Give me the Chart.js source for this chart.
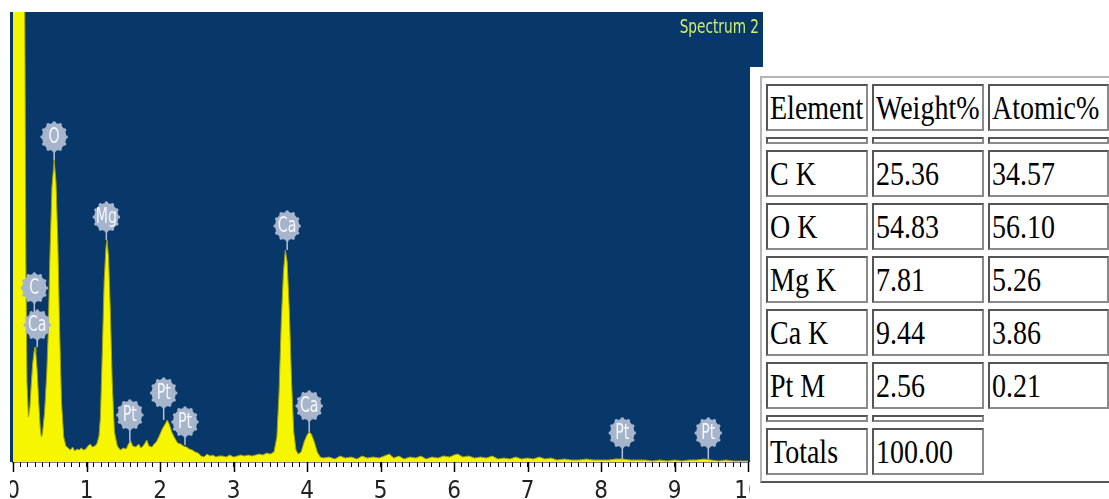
<!DOCTYPE html>
<html>
<head>
<meta charset="utf-8">
<script src="https://cdn.jsdelivr.net/npm/chart.js@4/dist/chart.umd.min.js"></script>
<style>
html, body { margin:0; padding:0; background:#fff; width:1109px; height:499px; overflow:hidden; }
#spec { position:absolute; left:0; top:0; }
#mask { position:absolute; left:0; top:0; width:10px; height:499px; background:#fff; }
#tblwrap { position:absolute; left:750px; top:67px; width:380px; height:432px; background:#fff; }
#tbl { position:absolute; left:10px; top:9px; border-collapse:separate; border-spacing:4px 6px;
  border:2px solid; border-color:#b4b4b4 #555 #555 #b4b4b4; table-layout:fixed;
  font-family:'Liberation Serif','Times New Roman',serif; font-size:28px; color:#000; }
#tbl td { box-sizing:border-box; border:2px solid; border-color:#555 #8a8a8a #8a8a8a #555;
  padding:0 2px; height:47px; vertical-align:middle; white-space:nowrap; overflow:hidden; }
#tbl tr.sp td { height:7px; }
#tbl td span { display:inline-block; transform:scaleY(1.2); }
</style>
</head>
<body>
<canvas id="spec" width="770" height="499"></canvas>
<div id="mask"></div>
<div id="tblwrap"><table id="tbl"></table></div>
<script>
// spectrum, energy in keV / counts
const energy = [
  0.00, 0.16, 0.175, 0.19, 0.21, 0.23, 0.25, 0.27, 0.29, 0.30, 0.31, 0.33, 0.35, 0.37, 0.385,
  0.40, 0.43, 0.46, 0.48, 0.50, 0.53, 0.56, 0.585, 0.61, 0.635, 0.66, 0.69, 0.72,
  0.75, 0.78, 0.81, 0.84, 0.87, 0.90, 0.93, 0.96, 0.99, 1.02, 1.05, 1.08, 1.11,
  1.14, 1.17, 1.19, 1.215, 1.24, 1.265, 1.28, 1.30, 1.325, 1.35, 1.38, 1.42,
  1.46, 1.50, 1.54, 1.57, 1.60, 1.63, 1.67, 1.71, 1.74, 1.78, 1.82, 1.85, 1.89, 1.92,
  1.95, 1.99, 2.03, 2.07, 2.10, 2.13, 2.16, 2.20, 2.24, 2.28, 2.32, 2.36, 2.40, 2.44, 2.48, 2.52,
  2.56, 2.60, 2.64, 2.68, 2.72, 2.76, 2.80, 2.85, 2.90, 2.95, 3.00, 3.05, 3.10, 3.15, 3.20,
  3.25, 3.30, 3.35, 3.40, 3.45, 3.50, 3.55, 3.59, 3.62, 3.65, 3.68, 3.705, 3.73, 3.76, 3.79,
  3.82, 3.85, 3.88, 3.92, 3.96, 4.00, 4.03, 4.06, 4.10, 4.14, 4.18,
  4.22, 4.30, 4.38, 4.45, 4.52, 4.60, 4.68, 4.75, 4.82, 4.90, 4.98, 5.05, 5.12, 5.18, 5.25,
  5.32, 5.40, 5.48, 5.55, 5.62, 5.70, 5.78, 5.86, 5.94, 6.00, 6.05, 6.12, 6.20, 6.28, 6.36,
  6.44, 6.52, 6.60, 6.68, 6.76, 6.84, 6.92, 7.00, 7.08, 7.16, 7.24, 7.32, 7.40, 7.50, 7.60,
  7.70, 7.80, 7.90, 8.00, 8.10, 8.20, 8.30, 8.40, 8.50, 8.60, 8.70, 8.80, 8.90, 9.00, 9.10,
  9.20, 9.30, 9.40, 9.50, 9.60, 9.70, 9.80, 9.90, 10.0
];
const counts = [
  460, 460, 200, 80, 45, 55, 80, 100, 112, 115, 110, 90, 60, 35, 25,
  28, 50, 90, 130, 200, 275, 302, 280, 220, 130, 60, 25, 16,
  14, 12, 15, 11, 13, 12, 14, 12, 13, 16, 18, 15, 16,
  18, 26, 45, 110, 180, 215, 222, 205, 150, 80, 30, 16,
  12, 14, 13, 18, 21, 16, 15, 18, 14, 17, 22, 16, 15, 18,
  20, 26, 33, 38, 42, 37, 30, 24, 19, 18, 16, 15, 13, 12, 10, 9,
  6, 5, 8, 6, 7, 5, 6, 6, 5, 7, 5, 6, 7, 6, 7,
  6, 7, 8, 7, 9, 8, 10, 25, 70, 140, 190, 212, 200, 150, 80,
  30, 12, 8, 10, 20, 27, 30, 28, 20, 10, 5,
  4, 5, 3, 6, 4, 5, 3, 6, 4, 5, 4, 6, 8, 4, 6,
  3, 5, 4, 6, 3, 5, 4, 6, 5, 7, 8, 5, 6, 4, 5,
  4, 6, 3, 4, 3, 5, 3, 4, 3, 5, 3, 4, 2, 3, 2,
  2, 3, 2, 2, 2, 3, 3, 2, 2, 2, 1, 2, 1, 2, 1,
  2, 2, 3, 2, 1, 2, 1, 1, 1
];

// element markers: name, energy, bubble height, peak top
const peakNames = ["O", "C", "Ca", "Mg", "Pt", "Pt", "Pt", "Ca", "Ca", "Pt", "Pt"];
const peakKeV   = [0.56, 0.29, 0.33, 1.27, 1.59, 2.05, 2.34, 3.73, 4.03, 8.29, 9.46];
const bubbleAt  = [325, 174, 137, 245, 47, 69, 40, 236, 56, 29, 29];
const stemTo    = [302, 150, 115, 222, 20, 42, 17, 212, 30, 3, 3];

const xTicks = [0, 1, 2, 3, 4, 5, 6, 7, 8, 9, 10];

// quantification table
const tableElements = ["C K", "O K", "Mg K", "Ca K", "Pt M"];
const weightPct = ["25.36", "54.83", "7.81", "9.44", "2.56"];
const atomicPct = ["34.57", "56.10", "5.26", "3.86", "0.21"];
const totalWeight = "100.00";

const narrow = "'Liberation Sans Narrow', 'DejaVu Sans Condensed', Arial, sans-serif";

// narrow text: squeeze horizontally
function narrowText(ctx, text, x, y, size, sx) {
  ctx.save();
  ctx.translate(x, y);
  ctx.scale(sx, 1);
  ctx.font = size + "px " + narrow;
  ctx.fillText(text, 0, 0);
  ctx.restore();
}

const plotBg = {
  id: "plotBg",
  beforeDraw(chart) {
    const {ctx, chartArea: a} = chart;
    ctx.save();
    ctx.fillStyle = "#08386a";
    ctx.fillRect(a.left - 3, a.top, a.right - a.left + 18, a.bottom - a.top);
    ctx.restore();
  }
};

const majorTicks = {
  id: "majorTicks",
  afterDraw(chart) {
    const {ctx, chartArea: a} = chart;
    const sx = chart.scales.x;
    ctx.save();
    ctx.strokeStyle = "#000";
    ctx.lineWidth = 1.5;
    xTicks.forEach(v => {
      const px = Math.round(sx.getPixelForValue(v)) + 0.5;
      ctx.beginPath();
      ctx.moveTo(px, a.bottom);
      ctx.lineTo(px, a.bottom + 10);
      ctx.stroke();
    });
    ctx.fillStyle = "#d2f06c";
    ctx.textAlign = "right";
    ctx.textBaseline = "alphabetic";
    narrowText(ctx, "Spectrum 2", a.right + 11, a.top + 21, 19, 0.8);
    ctx.restore();
  }
};

function bubble(ctx, cx, cy) {
  ctx.fillStyle = "#a6b5cc";
  ctx.beginPath();
  ctx.ellipse(cx, cy, 12, 14, 0, 0, Math.PI * 2);
  ctx.fill();
  for (let i = 0; i < 12; i++) {
    const t = i / 12 * Math.PI * 2;
    ctx.beginPath();
    ctx.arc(cx + Math.cos(t) * 12, cy + Math.sin(t) * 14, 1.8, 0, Math.PI * 2);
    ctx.fill();
  }
}

const peakLabels = {
  id: "peakLabels",
  afterDatasetsDraw(chart) {
    const {ctx} = chart;
    const sx = chart.scales.x, sy = chart.scales.y;
    ctx.save();
    peakNames.forEach((name, i) => {
      const px = sx.getPixelForValue(peakKeV[i]);
      const py = sy.getPixelForValue(bubbleAt[i]);
      const ps = sy.getPixelForValue(stemTo[i]);
      ctx.strokeStyle = "#b4c0d4";
      ctx.lineWidth = 1.5;
      ctx.beginPath();
      ctx.moveTo(px, py + 12);
      ctx.lineTo(px, ps);
      ctx.stroke();
    });
    peakNames.forEach((name, i) => {
      const px = sx.getPixelForValue(peakKeV[i]);
      const py = sy.getPixelForValue(bubbleAt[i]);
      bubble(ctx, px, py);
      ctx.fillStyle = "#f4f6fa";
      ctx.textAlign = "center";
      ctx.textBaseline = "middle";
      narrowText(ctx, name, px, py + 1, 21, 0.75);
    });
    ctx.restore();
  }
};

new Chart(document.getElementById("spec"), {
  type: "line",
  data: {
    datasets: [{
      data: energy.map((e, i) => ({x: e, y: counts[i]})),
      fill: "origin",
      backgroundColor: "#f6f600",
      borderColor: "#a0a010",
      borderWidth: 1,
      pointRadius: 0,
      tension: 0
    }]
  },
  options: {
    responsive: false,
    animation: false,
    layout: {padding: {left: 13, right: 22, top: 12, bottom: 0}},
    plugins: {legend: {display: false}, tooltip: {enabled: false}},
    scales: {
      x: {
        type: "linear",
        min: 0,
        max: 10,
        afterFit(scale) {
          scale.height = 37;
          scale.paddingLeft = 0;
          scale.paddingRight = 0;
        },
        border: {display: true, color: "#000", width: 1.5},
        grid: {display: true, drawOnChartArea: false, drawTicks: true, tickLength: 5, color: "#000"},
        ticks: {
          stepSize: 0.1,
          autoSkip: false,
          maxRotation: 0,
          padding: 13,
          color: "#222",
          font: {family: narrow, size: 24, lineHeight: 1},
          callback: v => (Math.abs(v - Math.round(v)) < 1e-6 ? String(Math.round(v)) : "")
        }
      },
      y: {display: false, min: 0, max: 450}
    }
  },
  plugins: [plotBg, majorTicks, peakLabels]
});

// table
const tbl = document.getElementById("tbl");
function addRow(cells, cls) {
  const tr = document.createElement("tr");
  if (cls) tr.className = cls;
  cells.forEach((c, j) => {
    const td = document.createElement("td");
    td.style.width = [102, 112, 121][j] + "px";
    if (c !== null) {
      const s = document.createElement("span");
      s.textContent = c;
      td.appendChild(s);
    }
    tr.appendChild(td);
  });
  tbl.appendChild(tr);
}
addRow(["Element", "Weight%", "Atomic%"]);
addRow([null, null, null], "sp");
tableElements.forEach((el, i) => addRow([el, weightPct[i], atomicPct[i]]));
addRow([null, null], "sp");
addRow(["Totals", totalWeight]);
</script>
</body>
</html>
